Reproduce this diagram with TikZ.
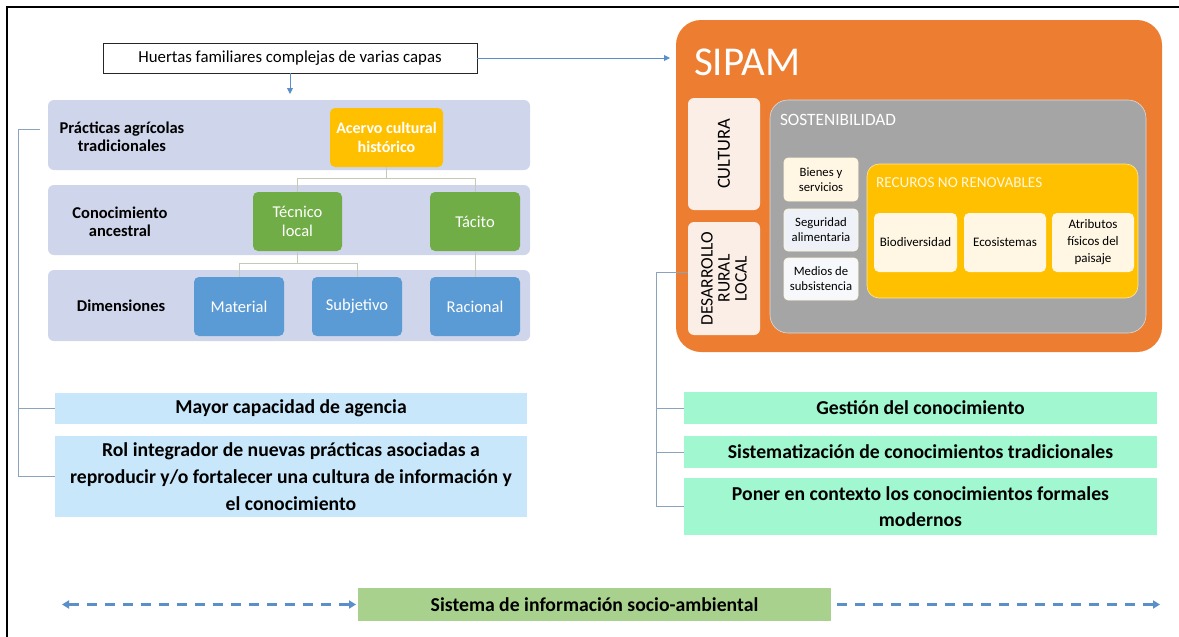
\documentclass[tikz,border=0pt]{standalone}
\usepackage{fontspec}
\setmainfont{Carlito}
\usetikzlibrary{arrows.meta}
\definecolor{band}{HTML}{CFD5EA}
\definecolor{gold}{HTML}{FFC000}
\definecolor{grn}{HTML}{70AD47}
\definecolor{blu}{HTML}{5B9BD5}
\definecolor{lblue}{HTML}{C9E7FA}
\definecolor{mint}{HTML}{A0F7D0}
\definecolor{sgreen}{HTML}{A9D18E}
\definecolor{orng}{HTML}{ED7D31}
\definecolor{gry}{HTML}{A5A5A5}
\definecolor{pale}{HTML}{FBEEE7}
\definecolor{cream}{HTML}{FFF7E4}
\definecolor{paleb}{HTML}{EEF1F7}
\definecolor{treel}{HTML}{C3CBB8}
\definecolor{brkc}{HTML}{8AA4BE}
\definecolor{arrc}{HTML}{5B8FC9}
\newcommand{\bx}[7]{\node[#2, anchor=north west, minimum width={(#5-#3)*1pt}, minimum height={(#6-#4)*1pt}] (#1) at (#3,#4) {#7};}
\newcommand{\fs}[2]{\fontsize{#1}{#2}\selectfont}
\begin{document}
\begin{tikzpicture}[x=1pt,y=-1pt,
  every node/.style={inner sep=1pt, outer sep=0pt, align=center},
  bandbox/.style={fill=band, rounded corners=6pt},
  goldbox/.style={fill=gold, rounded corners=5pt, text=white, font=\fs{16}{19}\bfseries},
  grnbox/.style={fill=grn, rounded corners=5pt, text=white, font=\fs{16.5}{19}},
  blubox/.style={fill=blu, rounded corners=5pt, text=white, font=\fs{16.5}{19}},
  lbbox/.style={fill=lblue, font=\fs{19.7}{27}\bfseries},
  mintbox/.style={fill=mint, font=\fs{19.7}{26}\bfseries},
  bandlabel/.style={font=\fs{16.5}{18.5}\bfseries},
  smallbox/.style={rounded corners=4pt, font=\fs{12.7}{15}, draw=white!85!gold, line width=0.6pt},
  recbox/.style={fill=cream, rounded corners=5pt, font=\fs{13}{17}},
  tree/.style={draw=treel, line width=1pt},
  brk/.style={draw=brkc, line width=1pt},
  arr/.style={draw=arrc, line width=1pt, -{Triangle[length=6pt,width=6pt]}},
  dasharrow/.style={draw=arrc, line width=2.4pt, dash pattern=on 10pt off 8pt}
]
\useasboundingbox (0,0) rectangle (1179,637);
\draw[black, line width=1.2pt] (7,637) -- (7,7) -- (1179,7);

% top box
\bx{huertas}{draw=black!85, line width=1pt, font=\fs{16.8}{20}}{103}{43}{477}{73}{Huertas familiares complejas de varias capas}

% left bands
\bx{band1}{bandbox}{48}{100}{530}{170}{}
\bx{band2}{bandbox}{48}{185}{530}{255}{}
\bx{band3}{bandbox}{48}{270}{530}{341}{}
\node[bandlabel] (lab1) at (122,137) {Prácticas agrícolas\\tradicionales};
\node[bandlabel] (lab2) at (120,222) {Conocimiento\\ancestral};
\node[bandlabel] (lab3) at (121,306) {Dimensiones};

\bx{acervo}{goldbox}{330}{108}{443}{167}{Acervo cultural\\histórico}
\bx{tecnico}{grnbox}{253}{192}{342}{251}{Técnico\\local}
\bx{tacito}{grnbox}{430}{192}{520}{251}{Tácito}
\bx{material}{blubox}{194}{277}{284}{336}{Material}
\bx{subjetivo}{blubox}{312}{277}{402}{336}{Subjetivo}
\bx{racional}{blubox}{430}{277}{520}{336}{Racional}

\draw[tree] (acervo.south) -- ++(0,11) -| (tecnico.north);
\draw[tree] (acervo.south) -- ++(0,11) -| (tacito.north);
\draw[tree] (tecnico.south) -- ++(0,12) -| (material.north);
\draw[tree] (tecnico.south) -- ++(0,12) -| (subjetivo.north);
\draw[tree] (tacito.south) -- (racional.north);

% left outcome boxes
\bx{mayor}{lbbox}{55}{393}{527}{424}{Mayor capacidad de agencia}
\bx{rol}{lbbox}{55}{436}{527}{517}{Rol integrador de nuevas prácticas asociadas a\\reproducir y/o fortalecer una cultura de información y\\el conocimiento}

\coordinate (bl) at (40,129);
\draw[brk] (bl) -- (18,129) |- (mayor.west);
\draw[brk] (18,400) |- (55,476);

% SIPAM
\bx{sipam}{fill=orng, rounded corners=25pt}{676}{20}{1162}{352}{}
\node[text=white, font=\fs{41}{48}, anchor=west] (sipamt) at (693,62) {SIPAM};
\node[fill=pale, rounded corners=6pt, rotate=90, minimum width=112pt, minimum height=72pt, font=\fs{18.5}{19}] (cultura) at (724,154) {CULTURA};
\node[fill=pale, rounded corners=6pt, rotate=90, minimum width=113pt, minimum height=72pt, font=\fs{17.5}{17}] (desarrollo) at (724,278.5) {DESARROLLO\\RURAL\\LOCAL};
\bx{sost}{fill=gry, rounded corners=18pt, draw=white!60!gry, line width=0.6pt}{770}{100}{1146}{333}{}
\node[text=white, font=\fs{17.3}{20}, anchor=west] (sostt) at (779,120) {SOSTENIBILIDAD};
\bx{bienes}{smallbox, fill=cream}{784}{158}{858}{201}{Bienes y\\servicios}
\bx{seguridad}{smallbox, fill=paleb}{784}{209}{858}{251}{Seguridad\\alimentaria}
\bx{medios}{smallbox, fill=paleb!50!white}{784}{258}{858}{300}{Medios de\\subsistencia}
\bx{recursos}{fill=gold, rounded corners=12pt, draw=white!60!gold, line width=0.6pt}{867}{164}{1138}{298}{}
\node[text=white!88!gold, font=\fs{15.2}{18}, anchor=west] (rect) at (875,183) {RECUROS NO RENOVABLES};
\bx{biodiv}{recbox}{874}{213}{957}{272}{Biodiversidad}
\bx{ecosis}{recbox}{964}{213}{1046}{272}{Ecosistemas}
\bx{atrib}{recbox}{1052}{213}{1134}{272}{Atributos\\físicos del\\paisaje}

% right outcome boxes
\bx{gestion}{mintbox}{684}{392}{1157}{424}{Gestión del conocimiento}
\bx{sistem}{mintbox}{684}{436}{1157}{468}{Sistematización de conocimientos tradicionales}
\bx{poner}{mintbox}{684}{478}{1157}{535}{Poner en contexto los conocimientos formales\\modernos}
\draw[brk] (desarrollo.north |- 0,272) -- (656,272) |- (poner.west);
\draw[brk] (656,408) -- (gestion.west);
\draw[brk] (656,452) -- (sistem.west);

% arrows
\draw[arr, shorten >=6pt] (huertas.east) -- (huertas.east -| sipam.west);
\draw[arr, shorten >=6pt] (huertas.south) -- (huertas.south |- band1.north);

% bottom
\bx{sis}{fill=sgreen, font=\fs{19.7}{24}\bfseries}{358}{588}{831}{621}{Sistema de información socio-ambiental}
\coordinate (dl) at (62,604.5);
\coordinate (dr) at (1160,604.5);
\draw[dasharrow, {Triangle[length=7pt,width=8pt]}-{Triangle[length=7pt,width=8pt]}] (dl) -- ([xshift=-2pt]sis.west);
\draw[dasharrow, -{Triangle[length=7pt,width=8pt]}] ([xshift=6pt]sis.east) -- (dr);
\end{tikzpicture}
\end{document}
